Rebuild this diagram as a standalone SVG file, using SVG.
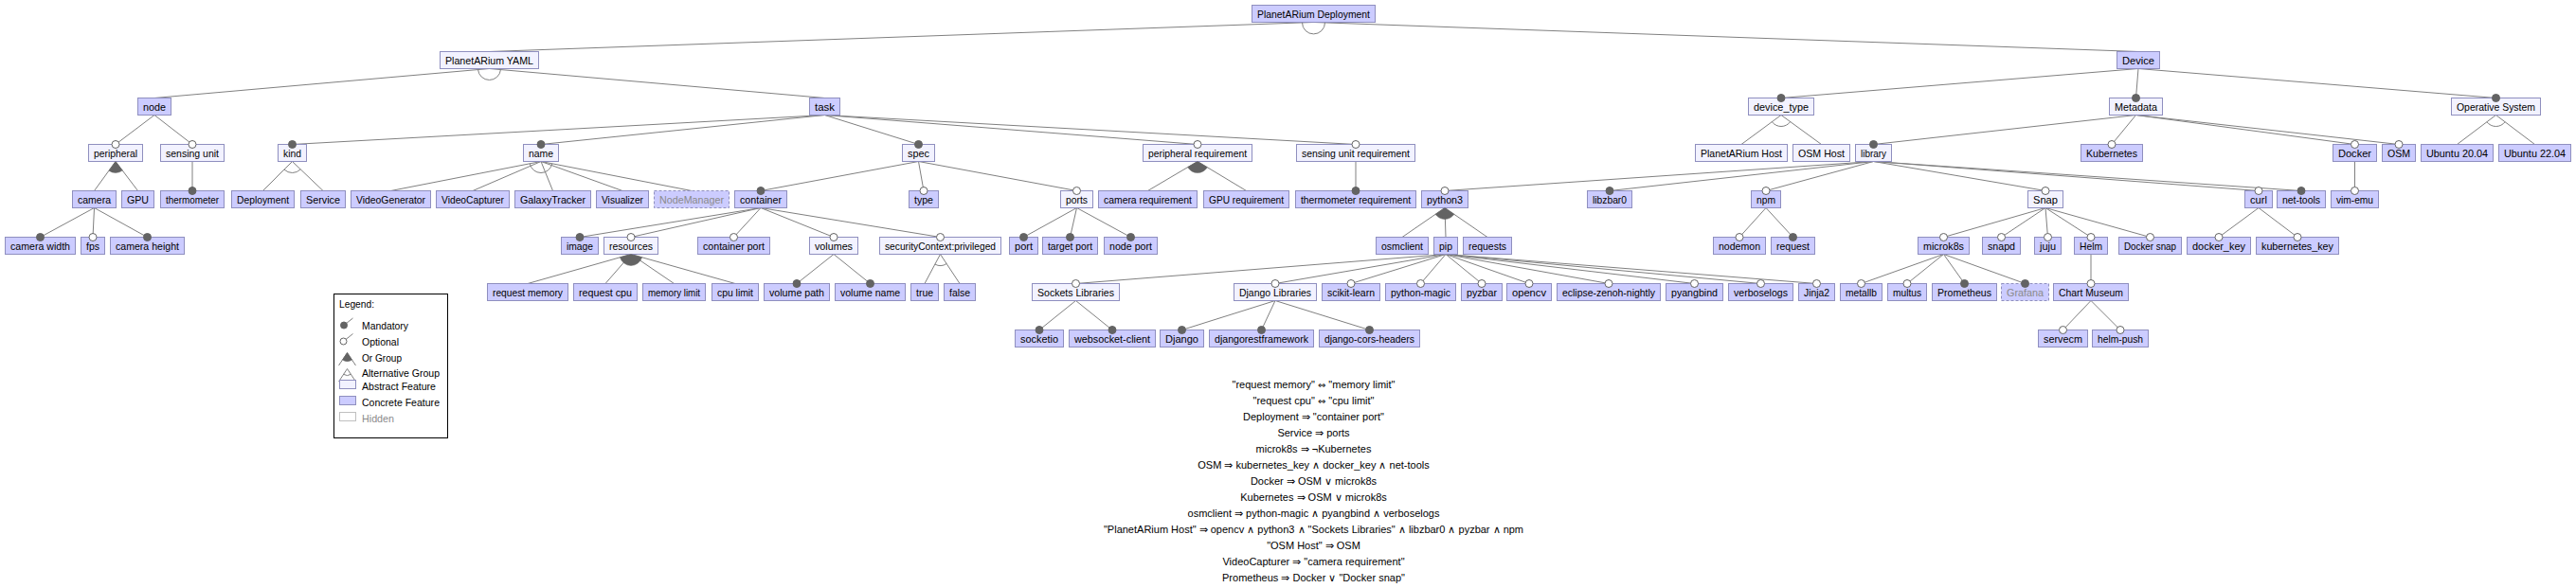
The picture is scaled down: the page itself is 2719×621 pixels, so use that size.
<svg xmlns="http://www.w3.org/2000/svg" width="2719" height="621" viewBox="0 0 2719 621">
<style>
rect.c{fill:#ccccff;stroke:#8f8fbf;stroke-width:1}
rect.a{fill:#f2f2ff;stroke:#8f8fbf;stroke-width:1}
rect.h{fill:#ccccff;stroke:#8f8fbf;stroke-width:1;stroke-dasharray:3,2}
text{font-family:"Liberation Sans",Arial,sans-serif;font-size:11px;fill:#000}
.nodes text{text-anchor:middle}
text.ht{fill:#8a8a8a}
.sym{font-family:"DejaVu Sans",sans-serif;font-size:10px}
#connectors line{stroke:#808080;stroke-width:1}
.alt{fill:none;stroke:#808080;stroke-width:1}
.or{fill:#636363;stroke:#636363;stroke-width:0.5}
.m{fill:#636363;stroke:#636363;stroke-width:1}
.o{fill:#ffffff;stroke:#636363;stroke-width:1}
.cons text{text-anchor:middle}
</style>
<rect width="2719" height="621" fill="#ffffff"/>
<g id="connectors">
<line x1="1386.5" y1="23.5" x2="516.5" y2="54.5"/>
<line x1="1386.5" y1="23.5" x2="2257" y2="54.5"/>
<line x1="516.5" y1="72.5" x2="163" y2="103.5"/>
<line x1="516.5" y1="72.5" x2="870.5" y2="103.5"/>
<line x1="163" y1="121.5" x2="122" y2="152.5"/>
<line x1="163" y1="121.5" x2="203" y2="152.5"/>
<line x1="122" y1="170.5" x2="99.5" y2="201.5"/>
<line x1="122" y1="170.5" x2="145.5" y2="201.5"/>
<line x1="203" y1="170.5" x2="203" y2="201.5"/>
<line x1="99.5" y1="219.5" x2="42.5" y2="250.5"/>
<line x1="99.5" y1="219.5" x2="98" y2="250.5"/>
<line x1="99.5" y1="219.5" x2="155.5" y2="250.5"/>
<line x1="870.5" y1="121.5" x2="308.5" y2="152.5"/>
<line x1="870.5" y1="121.5" x2="571" y2="152.5"/>
<line x1="870.5" y1="121.5" x2="969.5" y2="152.5"/>
<line x1="870.5" y1="121.5" x2="1264" y2="152.5"/>
<line x1="870.5" y1="121.5" x2="1431" y2="152.5"/>
<line x1="308.5" y1="170.5" x2="277.5" y2="201.5"/>
<line x1="308.5" y1="170.5" x2="341" y2="201.5"/>
<line x1="571" y1="170.5" x2="412.5" y2="201.5"/>
<line x1="571" y1="170.5" x2="499" y2="201.5"/>
<line x1="571" y1="170.5" x2="583.5" y2="201.5"/>
<line x1="571" y1="170.5" x2="657" y2="201.5"/>
<line x1="571" y1="170.5" x2="730" y2="201.5"/>
<line x1="969.5" y1="170.5" x2="803" y2="201.5"/>
<line x1="969.5" y1="170.5" x2="975" y2="201.5"/>
<line x1="969.5" y1="170.5" x2="1136.5" y2="201.5"/>
<line x1="803" y1="219.5" x2="612" y2="250.5"/>
<line x1="803" y1="219.5" x2="666" y2="250.5"/>
<line x1="803" y1="219.5" x2="774.5" y2="250.5"/>
<line x1="803" y1="219.5" x2="880" y2="250.5"/>
<line x1="803" y1="219.5" x2="992.5" y2="250.5"/>
<line x1="666" y1="268.5" x2="557" y2="299.5"/>
<line x1="666" y1="268.5" x2="639" y2="299.5"/>
<line x1="666" y1="268.5" x2="711.5" y2="299.5"/>
<line x1="666" y1="268.5" x2="776" y2="299.5"/>
<line x1="880" y1="268.5" x2="841" y2="299.5"/>
<line x1="880" y1="268.5" x2="918.5" y2="299.5"/>
<line x1="992.5" y1="268.5" x2="976" y2="299.5"/>
<line x1="992.5" y1="268.5" x2="1013" y2="299.5"/>
<line x1="1136.5" y1="219.5" x2="1080.5" y2="250.5"/>
<line x1="1136.5" y1="219.5" x2="1129.5" y2="250.5"/>
<line x1="1136.5" y1="219.5" x2="1193.5" y2="250.5"/>
<line x1="1264" y1="170.5" x2="1211.5" y2="201.5"/>
<line x1="1264" y1="170.5" x2="1315.5" y2="201.5"/>
<line x1="1431" y1="170.5" x2="1431" y2="201.5"/>
<line x1="2257" y1="72.5" x2="1880" y2="103.5"/>
<line x1="2257" y1="72.5" x2="2254.5" y2="103.5"/>
<line x1="2257" y1="72.5" x2="2634.5" y2="103.5"/>
<line x1="1880" y1="121.5" x2="1838" y2="152.5"/>
<line x1="1880" y1="121.5" x2="1922.5" y2="152.5"/>
<line x1="2254.5" y1="121.5" x2="1977.5" y2="152.5"/>
<line x1="2254.5" y1="121.5" x2="2229" y2="152.5"/>
<line x1="2254.5" y1="121.5" x2="2485.5" y2="152.5"/>
<line x1="2254.5" y1="121.5" x2="2532" y2="152.5"/>
<line x1="2634.5" y1="121.5" x2="2593.5" y2="152.5"/>
<line x1="2634.5" y1="121.5" x2="2675.5" y2="152.5"/>
<line x1="1977.5" y1="170.5" x2="1525" y2="201.5"/>
<line x1="1977.5" y1="170.5" x2="1699" y2="201.5"/>
<line x1="1977.5" y1="170.5" x2="1864" y2="201.5"/>
<line x1="1977.5" y1="170.5" x2="2159" y2="201.5"/>
<line x1="1977.5" y1="170.5" x2="2384" y2="201.5"/>
<line x1="1977.5" y1="170.5" x2="2429" y2="201.5"/>
<line x1="2485.5" y1="170.5" x2="2485.5" y2="201.5"/>
<line x1="1525" y1="219.5" x2="1480" y2="250.5"/>
<line x1="1525" y1="219.5" x2="1526" y2="250.5"/>
<line x1="1525" y1="219.5" x2="1570" y2="250.5"/>
<line x1="1526" y1="268.5" x2="1135.5" y2="299.5"/>
<line x1="1526" y1="268.5" x2="1346" y2="299.5"/>
<line x1="1526" y1="268.5" x2="1426" y2="299.5"/>
<line x1="1526" y1="268.5" x2="1499.5" y2="299.5"/>
<line x1="1526" y1="268.5" x2="1564" y2="299.5"/>
<line x1="1526" y1="268.5" x2="1614" y2="299.5"/>
<line x1="1526" y1="268.5" x2="1698" y2="299.5"/>
<line x1="1526" y1="268.5" x2="1788.5" y2="299.5"/>
<line x1="1526" y1="268.5" x2="1858.5" y2="299.5"/>
<line x1="1526" y1="268.5" x2="1917.5" y2="299.5"/>
<line x1="1864" y1="219.5" x2="1836" y2="250.5"/>
<line x1="1864" y1="219.5" x2="1892.5" y2="250.5"/>
<line x1="2159" y1="219.5" x2="2051.5" y2="250.5"/>
<line x1="2159" y1="219.5" x2="2112.5" y2="250.5"/>
<line x1="2159" y1="219.5" x2="2161.5" y2="250.5"/>
<line x1="2159" y1="219.5" x2="2207" y2="250.5"/>
<line x1="2159" y1="219.5" x2="2269.5" y2="250.5"/>
<line x1="2384" y1="219.5" x2="2342" y2="250.5"/>
<line x1="2384" y1="219.5" x2="2425" y2="250.5"/>
<line x1="2051.5" y1="268.5" x2="1964.5" y2="299.5"/>
<line x1="2051.5" y1="268.5" x2="2013" y2="299.5"/>
<line x1="2051.5" y1="268.5" x2="2073.5" y2="299.5"/>
<line x1="2051.5" y1="268.5" x2="2137.5" y2="299.5"/>
<line x1="2207" y1="268.5" x2="2207" y2="299.5"/>
<line x1="1135.5" y1="317.5" x2="1097" y2="348.5"/>
<line x1="1135.5" y1="317.5" x2="1174" y2="348.5"/>
<line x1="1346" y1="317.5" x2="1247.5" y2="348.5"/>
<line x1="1346" y1="317.5" x2="1331.5" y2="348.5"/>
<line x1="1346" y1="317.5" x2="1445.5" y2="348.5"/>
<line x1="2207" y1="317.5" x2="2177.5" y2="348.5"/>
<line x1="2207" y1="317.5" x2="2238" y2="348.5"/>
</g>
<g class="nodes">
<g id="n-root"><rect class="c" x="1321.5" y="5.5" width="130" height="18"/><text x="1386.5" y="19" textLength="119" lengthAdjust="spacingAndGlyphs">PlanetARium Deployment</text></g>
<g id="n-yaml"><rect class="a" x="464.5" y="54.5" width="104" height="18"/><text x="516.5" y="68" textLength="93" lengthAdjust="spacingAndGlyphs">PlanetARium YAML</text></g>
<g id="n-device"><rect class="c" x="2234.5" y="54.5" width="45" height="18"/><text x="2257" y="68" textLength="34" lengthAdjust="spacingAndGlyphs">Device</text></g>
<g id="n-node"><rect class="c" x="145.5" y="103.5" width="35" height="18"/><text x="163" y="117" textLength="24" lengthAdjust="spacingAndGlyphs">node</text></g>
<g id="n-task"><rect class="c" x="854.5" y="103.5" width="32" height="18"/><text x="870.5" y="117" textLength="21" lengthAdjust="spacingAndGlyphs">task</text></g>
<g id="n-device_type"><rect class="a" x="1845.5" y="103.5" width="69" height="18"/><text x="1880" y="117" textLength="58" lengthAdjust="spacingAndGlyphs">device_type</text></g>
<g id="n-metadata"><rect class="a" x="2226.5" y="103.5" width="56" height="18"/><text x="2254.5" y="117" textLength="45" lengthAdjust="spacingAndGlyphs">Metadata</text></g>
<g id="n-os"><rect class="a" x="2587.5" y="103.5" width="94" height="18"/><text x="2634.5" y="117" textLength="83" lengthAdjust="spacingAndGlyphs">Operative System</text></g>
<g id="n-peripheral"><rect class="a" x="93.5" y="152.5" width="57" height="18"/><text x="122" y="166" textLength="46" lengthAdjust="spacingAndGlyphs">peripheral</text></g>
<g id="n-sensing"><rect class="a" x="169.5" y="152.5" width="67" height="18"/><text x="203" y="166" textLength="56" lengthAdjust="spacingAndGlyphs">sensing unit</text></g>
<g id="n-kind"><rect class="a" x="293.5" y="152.5" width="30" height="18"/><text x="308.5" y="166" textLength="19" lengthAdjust="spacingAndGlyphs">kind</text></g>
<g id="n-name"><rect class="a" x="552.5" y="152.5" width="37" height="18"/><text x="571" y="166" textLength="26" lengthAdjust="spacingAndGlyphs">name</text></g>
<g id="n-spec"><rect class="a" x="952.5" y="152.5" width="34" height="18"/><text x="969.5" y="166" textLength="23" lengthAdjust="spacingAndGlyphs">spec</text></g>
<g id="n-preq"><rect class="a" x="1206.5" y="152.5" width="115" height="18"/><text x="1264" y="166" textLength="104" lengthAdjust="spacingAndGlyphs">peripheral requirement</text></g>
<g id="n-sreq"><rect class="a" x="1368.5" y="152.5" width="125" height="18"/><text x="1431" y="166" textLength="114" lengthAdjust="spacingAndGlyphs">sensing unit requirement</text></g>
<g id="n-pahost"><rect class="a" x="1789.5" y="152.5" width="97" height="18"/><text x="1838" y="166" textLength="86" lengthAdjust="spacingAndGlyphs">PlanetARium Host</text></g>
<g id="n-osmhost"><rect class="a" x="1892.5" y="152.5" width="60" height="18"/><text x="1922.5" y="166" textLength="49" lengthAdjust="spacingAndGlyphs">OSM Host</text></g>
<g id="n-library"><rect class="a" x="1958.5" y="152.5" width="38" height="18"/><text x="1977.5" y="166" textLength="27" lengthAdjust="spacingAndGlyphs">library</text></g>
<g id="n-kubernetes"><rect class="c" x="2196.5" y="152.5" width="65" height="18"/><text x="2229" y="166" textLength="54" lengthAdjust="spacingAndGlyphs">Kubernetes</text></g>
<g id="n-docker"><rect class="c" x="2462.5" y="152.5" width="46" height="18"/><text x="2485.5" y="166" textLength="35" lengthAdjust="spacingAndGlyphs">Docker</text></g>
<g id="n-osm"><rect class="c" x="2514.5" y="152.5" width="35" height="18"/><text x="2532" y="166" textLength="24" lengthAdjust="spacingAndGlyphs">OSM</text></g>
<g id="n-u20"><rect class="c" x="2555.5" y="152.5" width="76" height="18"/><text x="2593.5" y="166" textLength="65" lengthAdjust="spacingAndGlyphs">Ubuntu 20.04</text></g>
<g id="n-u22"><rect class="c" x="2637.5" y="152.5" width="76" height="18"/><text x="2675.5" y="166" textLength="65" lengthAdjust="spacingAndGlyphs">Ubuntu 22.04</text></g>
<g id="n-camera"><rect class="c" x="76.5" y="201.5" width="46" height="18"/><text x="99.5" y="215" textLength="35" lengthAdjust="spacingAndGlyphs">camera</text></g>
<g id="n-gpu"><rect class="c" x="128.5" y="201.5" width="34" height="18"/><text x="145.5" y="215" textLength="23" lengthAdjust="spacingAndGlyphs">GPU</text></g>
<g id="n-thermometer"><rect class="c" x="169.5" y="201.5" width="67" height="18"/><text x="203" y="215" textLength="56" lengthAdjust="spacingAndGlyphs">thermometer</text></g>
<g id="n-deployment"><rect class="c" x="244.5" y="201.5" width="66" height="18"/><text x="277.5" y="215" textLength="55" lengthAdjust="spacingAndGlyphs">Deployment</text></g>
<g id="n-service"><rect class="c" x="317.5" y="201.5" width="47" height="18"/><text x="341" y="215" textLength="36" lengthAdjust="spacingAndGlyphs">Service</text></g>
<g id="n-videogen"><rect class="c" x="370.5" y="201.5" width="84" height="18"/><text x="412.5" y="215" textLength="73" lengthAdjust="spacingAndGlyphs">VideoGenerator</text></g>
<g id="n-videocap"><rect class="c" x="460.5" y="201.5" width="77" height="18"/><text x="499" y="215" textLength="66" lengthAdjust="spacingAndGlyphs">VideoCapturer</text></g>
<g id="n-galaxy"><rect class="c" x="543.5" y="201.5" width="80" height="18"/><text x="583.5" y="215" textLength="69" lengthAdjust="spacingAndGlyphs">GalaxyTracker</text></g>
<g id="n-visualizer"><rect class="c" x="629.5" y="201.5" width="55" height="18"/><text x="657" y="215" textLength="44" lengthAdjust="spacingAndGlyphs">Visualizer</text></g>
<g id="n-nodemanager"><rect class="h" x="690.5" y="201.5" width="79" height="18"/><text class="ht" x="730" y="215" textLength="68" lengthAdjust="spacingAndGlyphs">NodeManager</text></g>
<g id="n-container"><rect class="c" x="775.5" y="201.5" width="55" height="18"/><text x="803" y="215" textLength="44" lengthAdjust="spacingAndGlyphs">container</text></g>
<g id="n-type"><rect class="c" x="959.5" y="201.5" width="31" height="18"/><text x="975" y="215" textLength="20" lengthAdjust="spacingAndGlyphs">type</text></g>
<g id="n-ports"><rect class="a" x="1119.5" y="201.5" width="34" height="18"/><text x="1136.5" y="215" textLength="23" lengthAdjust="spacingAndGlyphs">ports</text></g>
<g id="n-camreq"><rect class="c" x="1159.5" y="201.5" width="104" height="18"/><text x="1211.5" y="215" textLength="93" lengthAdjust="spacingAndGlyphs">camera requirement</text></g>
<g id="n-gpureq"><rect class="c" x="1270.5" y="201.5" width="90" height="18"/><text x="1315.5" y="215" textLength="79" lengthAdjust="spacingAndGlyphs">GPU requirement</text></g>
<g id="n-thermreq"><rect class="c" x="1367.5" y="201.5" width="127" height="18"/><text x="1431" y="215" textLength="116" lengthAdjust="spacingAndGlyphs">thermometer requirement</text></g>
<g id="n-python3"><rect class="c" x="1500.5" y="201.5" width="49" height="18"/><text x="1525" y="215" textLength="38" lengthAdjust="spacingAndGlyphs">python3</text></g>
<g id="n-libzbar0"><rect class="c" x="1675.5" y="201.5" width="47" height="18"/><text x="1699" y="215" textLength="36" lengthAdjust="spacingAndGlyphs">libzbar0</text></g>
<g id="n-npm"><rect class="c" x="1848.5" y="201.5" width="31" height="18"/><text x="1864" y="215" textLength="20" lengthAdjust="spacingAndGlyphs">npm</text></g>
<g id="n-snap"><rect class="a" x="2140.5" y="201.5" width="37" height="18"/><text x="2159" y="215" textLength="26" lengthAdjust="spacingAndGlyphs">Snap</text></g>
<g id="n-curl"><rect class="c" x="2369.5" y="201.5" width="29" height="18"/><text x="2384" y="215" textLength="18" lengthAdjust="spacingAndGlyphs">curl</text></g>
<g id="n-nettools"><rect class="c" x="2403.5" y="201.5" width="51" height="18"/><text x="2429" y="215" textLength="40" lengthAdjust="spacingAndGlyphs">net-tools</text></g>
<g id="n-vimemu"><rect class="c" x="2460.5" y="201.5" width="50" height="18"/><text x="2485.5" y="215" textLength="39" lengthAdjust="spacingAndGlyphs">vim-emu</text></g>
<g id="n-camwidth"><rect class="c" x="5.5" y="250.5" width="74" height="18"/><text x="42.5" y="264" textLength="63" lengthAdjust="spacingAndGlyphs">camera width</text></g>
<g id="n-fps"><rect class="c" x="85.5" y="250.5" width="25" height="18"/><text x="98" y="264" textLength="14" lengthAdjust="spacingAndGlyphs">fps</text></g>
<g id="n-camheight"><rect class="c" x="116.5" y="250.5" width="78" height="18"/><text x="155.5" y="264" textLength="67" lengthAdjust="spacingAndGlyphs">camera height</text></g>
<g id="n-image"><rect class="c" x="592.5" y="250.5" width="39" height="18"/><text x="612" y="264" textLength="28" lengthAdjust="spacingAndGlyphs">image</text></g>
<g id="n-resources"><rect class="a" x="637.5" y="250.5" width="57" height="18"/><text x="666" y="264" textLength="46" lengthAdjust="spacingAndGlyphs">resources</text></g>
<g id="n-cport"><rect class="c" x="736.5" y="250.5" width="76" height="18"/><text x="774.5" y="264" textLength="65" lengthAdjust="spacingAndGlyphs">container port</text></g>
<g id="n-volumes"><rect class="a" x="854.5" y="250.5" width="51" height="18"/><text x="880" y="264" textLength="40" lengthAdjust="spacingAndGlyphs">volumes</text></g>
<g id="n-secctx"><rect class="a" x="928.5" y="250.5" width="128" height="18"/><text x="992.5" y="264" textLength="117" lengthAdjust="spacingAndGlyphs">securityContext:privileged</text></g>
<g id="n-port"><rect class="c" x="1065.5" y="250.5" width="30" height="18"/><text x="1080.5" y="264" textLength="19" lengthAdjust="spacingAndGlyphs">port</text></g>
<g id="n-tport"><rect class="c" x="1100.5" y="250.5" width="58" height="18"/><text x="1129.5" y="264" textLength="47" lengthAdjust="spacingAndGlyphs">target port</text></g>
<g id="n-nport"><rect class="c" x="1165.5" y="250.5" width="56" height="18"/><text x="1193.5" y="264" textLength="45" lengthAdjust="spacingAndGlyphs">node port</text></g>
<g id="n-osmclient"><rect class="c" x="1452.5" y="250.5" width="55" height="18"/><text x="1480" y="264" textLength="44" lengthAdjust="spacingAndGlyphs">osmclient</text></g>
<g id="n-pip"><rect class="c" x="1513.5" y="250.5" width="25" height="18"/><text x="1526" y="264" textLength="14" lengthAdjust="spacingAndGlyphs">pip</text></g>
<g id="n-requests"><rect class="c" x="1544.5" y="250.5" width="51" height="18"/><text x="1570" y="264" textLength="40" lengthAdjust="spacingAndGlyphs">requests</text></g>
<g id="n-nodemon"><rect class="c" x="1808.5" y="250.5" width="55" height="18"/><text x="1836" y="264" textLength="44" lengthAdjust="spacingAndGlyphs">nodemon</text></g>
<g id="n-request"><rect class="c" x="1869.5" y="250.5" width="46" height="18"/><text x="1892.5" y="264" textLength="35" lengthAdjust="spacingAndGlyphs">request</text></g>
<g id="n-microk8s"><rect class="c" x="2024.5" y="250.5" width="54" height="18"/><text x="2051.5" y="264" textLength="43" lengthAdjust="spacingAndGlyphs">microk8s</text></g>
<g id="n-snapd"><rect class="c" x="2092.5" y="250.5" width="40" height="18"/><text x="2112.5" y="264" textLength="29" lengthAdjust="spacingAndGlyphs">snapd</text></g>
<g id="n-juju"><rect class="c" x="2147.5" y="250.5" width="28" height="18"/><text x="2161.5" y="264" textLength="17" lengthAdjust="spacingAndGlyphs">juju</text></g>
<g id="n-helm"><rect class="c" x="2189.5" y="250.5" width="35" height="18"/><text x="2207" y="264" textLength="24" lengthAdjust="spacingAndGlyphs">Helm</text></g>
<g id="n-dockersnap"><rect class="c" x="2236.5" y="250.5" width="66" height="18"/><text x="2269.5" y="264" textLength="55" lengthAdjust="spacingAndGlyphs">Docker snap</text></g>
<g id="n-dockerkey"><rect class="c" x="2308.5" y="250.5" width="67" height="18"/><text x="2342" y="264" textLength="56" lengthAdjust="spacingAndGlyphs">docker_key</text></g>
<g id="n-kubekey"><rect class="c" x="2381.5" y="250.5" width="87" height="18"/><text x="2425" y="264" textLength="76" lengthAdjust="spacingAndGlyphs">kubernetes_key</text></g>
<g id="n-reqmem"><rect class="c" x="514.5" y="299.5" width="85" height="18"/><text x="557" y="313" textLength="74" lengthAdjust="spacingAndGlyphs">request memory</text></g>
<g id="n-reqcpu"><rect class="c" x="605.5" y="299.5" width="67" height="18"/><text x="639" y="313" textLength="56" lengthAdjust="spacingAndGlyphs">request cpu</text></g>
<g id="n-memlim"><rect class="c" x="678.5" y="299.5" width="66" height="18"/><text x="711.5" y="313" textLength="55" lengthAdjust="spacingAndGlyphs">memory limit</text></g>
<g id="n-cpulim"><rect class="c" x="751.5" y="299.5" width="49" height="18"/><text x="776" y="313" textLength="38" lengthAdjust="spacingAndGlyphs">cpu limit</text></g>
<g id="n-volpath"><rect class="c" x="806.5" y="299.5" width="69" height="18"/><text x="841" y="313" textLength="58" lengthAdjust="spacingAndGlyphs">volume path</text></g>
<g id="n-volname"><rect class="c" x="881.5" y="299.5" width="74" height="18"/><text x="918.5" y="313" textLength="63" lengthAdjust="spacingAndGlyphs">volume name</text></g>
<g id="n-true"><rect class="c" x="961.5" y="299.5" width="29" height="18"/><text x="976" y="313" textLength="18" lengthAdjust="spacingAndGlyphs">true</text></g>
<g id="n-false"><rect class="c" x="996.5" y="299.5" width="33" height="18"/><text x="1013" y="313" textLength="22" lengthAdjust="spacingAndGlyphs">false</text></g>
<g id="n-sockets"><rect class="a" x="1089.5" y="299.5" width="92" height="18"/><text x="1135.5" y="313" textLength="81" lengthAdjust="spacingAndGlyphs">Sockets Libraries</text></g>
<g id="n-djangolibs"><rect class="a" x="1302.5" y="299.5" width="87" height="18"/><text x="1346" y="313" textLength="76" lengthAdjust="spacingAndGlyphs">Django Libraries</text></g>
<g id="n-sklearn"><rect class="c" x="1395.5" y="299.5" width="61" height="18"/><text x="1426" y="313" textLength="50" lengthAdjust="spacingAndGlyphs">scikit-learn</text></g>
<g id="n-pymagic"><rect class="c" x="1462.5" y="299.5" width="74" height="18"/><text x="1499.5" y="313" textLength="63" lengthAdjust="spacingAndGlyphs">python-magic</text></g>
<g id="n-pyzbar"><rect class="c" x="1542.5" y="299.5" width="43" height="18"/><text x="1564" y="313" textLength="32" lengthAdjust="spacingAndGlyphs">pyzbar</text></g>
<g id="n-opencv"><rect class="c" x="1590.5" y="299.5" width="47" height="18"/><text x="1614" y="313" textLength="36" lengthAdjust="spacingAndGlyphs">opencv</text></g>
<g id="n-zenoh"><rect class="c" x="1643.5" y="299.5" width="109" height="18"/><text x="1698" y="313" textLength="98" lengthAdjust="spacingAndGlyphs">eclipse-zenoh-nightly</text></g>
<g id="n-pyangbind"><rect class="c" x="1758.5" y="299.5" width="60" height="18"/><text x="1788.5" y="313" textLength="49" lengthAdjust="spacingAndGlyphs">pyangbind</text></g>
<g id="n-verboselogs"><rect class="c" x="1824.5" y="299.5" width="68" height="18"/><text x="1858.5" y="313" textLength="57" lengthAdjust="spacingAndGlyphs">verboselogs</text></g>
<g id="n-jinja2"><rect class="c" x="1898.5" y="299.5" width="38" height="18"/><text x="1917.5" y="313" textLength="27" lengthAdjust="spacingAndGlyphs">Jinja2</text></g>
<g id="n-metallb"><rect class="c" x="1942.5" y="299.5" width="44" height="18"/><text x="1964.5" y="313" textLength="33" lengthAdjust="spacingAndGlyphs">metallb</text></g>
<g id="n-multus"><rect class="c" x="1992.5" y="299.5" width="41" height="18"/><text x="2013" y="313" textLength="30" lengthAdjust="spacingAndGlyphs">multus</text></g>
<g id="n-prometheus"><rect class="c" x="2039.5" y="299.5" width="68" height="18"/><text x="2073.5" y="313" textLength="57" lengthAdjust="spacingAndGlyphs">Prometheus</text></g>
<g id="n-grafana"><rect class="h" x="2112.5" y="299.5" width="50" height="18"/><text class="ht" x="2137.5" y="313" textLength="39" lengthAdjust="spacingAndGlyphs">Grafana</text></g>
<g id="n-chartmuseum"><rect class="c" x="2167.5" y="299.5" width="79" height="18"/><text x="2207" y="313" textLength="68" lengthAdjust="spacingAndGlyphs">Chart Museum</text></g>
<g id="n-socketio"><rect class="c" x="1071.5" y="348.5" width="51" height="18"/><text x="1097" y="362" textLength="40" lengthAdjust="spacingAndGlyphs">socketio</text></g>
<g id="n-wsclient"><rect class="c" x="1128.5" y="348.5" width="91" height="18"/><text x="1174" y="362" textLength="80" lengthAdjust="spacingAndGlyphs">websocket-client</text></g>
<g id="n-django"><rect class="c" x="1224.5" y="348.5" width="46" height="18"/><text x="1247.5" y="362" textLength="35" lengthAdjust="spacingAndGlyphs">Django</text></g>
<g id="n-drf"><rect class="c" x="1276.5" y="348.5" width="110" height="18"/><text x="1331.5" y="362" textLength="99" lengthAdjust="spacingAndGlyphs">djangorestframework</text></g>
<g id="n-dch"><rect class="c" x="1392.5" y="348.5" width="106" height="18"/><text x="1445.5" y="362" textLength="95" lengthAdjust="spacingAndGlyphs">django-cors-headers</text></g>
<g id="n-servecm"><rect class="c" x="2151.5" y="348.5" width="52" height="18"/><text x="2177.5" y="362" textLength="41" lengthAdjust="spacingAndGlyphs">servecm</text></g>
<g id="n-helmpush"><rect class="c" x="2208.5" y="348.5" width="59" height="18"/><text x="2238" y="362" textLength="48" lengthAdjust="spacingAndGlyphs">helm-push</text></g>
</g>
<g id="groups">
<path class="alt" d="M1398.5,23.9 A12,12 0 0 1 1374.5,23.9"/>
<path class="alt" d="M528.45,73.55 A12,12 0 0 1 504.55,73.55"/>
<path class="alt" d="M317.18,178.78 A12,12 0 0 1 300.01,178.99"/>
<path class="alt" d="M582.78,172.8 A12,12 0 0 1 559.22,172.8"/>
<path class="alt" d="M999.12,278.51 A12,12 0 0 1 986.86,279.09"/>
<path class="alt" d="M1889.69,128.57 A12,12 0 0 1 1870.34,128.63"/>
<path class="alt" d="M2644.07,128.74 A12,12 0 0 1 2624.93,128.74"/>
<path class="or" d="M122,170.5 L129.25,180.06 A12,12 0 0 1 114.95,180.21 Z"/>
<path class="or" d="M666,268.5 L677.55,271.76 A12,12 0 0 1 654.46,271.78 Z"/>
<path class="or" d="M1264,170.5 L1274.28,176.69 A12,12 0 0 1 1253.67,176.6 Z"/>
<path class="or" d="M1525,219.5 L1534.88,226.31 A12,12 0 0 1 1515.12,226.31 Z"/>
</g>
<g id="decorations">
<circle class="m" cx="203" cy="201.5" r="4"/>
<circle class="m" cx="42.5" cy="250.5" r="4"/>
<circle class="m" cx="155.5" cy="250.5" r="4"/>
<circle class="m" cx="308.5" cy="152.5" r="4"/>
<circle class="m" cx="571" cy="152.5" r="4"/>
<circle class="m" cx="969.5" cy="152.5" r="4"/>
<circle class="m" cx="803" cy="201.5" r="4"/>
<circle class="m" cx="612" cy="250.5" r="4"/>
<circle class="m" cx="841" cy="299.5" r="4"/>
<circle class="m" cx="918.5" cy="299.5" r="4"/>
<circle class="m" cx="1080.5" cy="250.5" r="4"/>
<circle class="m" cx="1129.5" cy="250.5" r="4"/>
<circle class="m" cx="1193.5" cy="250.5" r="4"/>
<circle class="m" cx="1431" cy="201.5" r="4"/>
<circle class="m" cx="1880" cy="103.5" r="4"/>
<circle class="m" cx="2254.5" cy="103.5" r="4"/>
<circle class="m" cx="2634.5" cy="103.5" r="4"/>
<circle class="m" cx="1977.5" cy="152.5" r="4"/>
<circle class="m" cx="1699" cy="201.5" r="4"/>
<circle class="m" cx="2429" cy="201.5" r="4"/>
<circle class="m" cx="1892.5" cy="250.5" r="4"/>
<circle class="m" cx="2073.5" cy="299.5" r="4"/>
<circle class="m" cx="2137.5" cy="299.5" r="4"/>
<circle class="m" cx="1097" cy="348.5" r="4"/>
<circle class="m" cx="1174" cy="348.5" r="4"/>
<circle class="m" cx="1247.5" cy="348.5" r="4"/>
<circle class="m" cx="1331.5" cy="348.5" r="4"/>
<circle class="m" cx="1445.5" cy="348.5" r="4"/>
<circle class="o" cx="122" cy="152.5" r="4"/>
<circle class="o" cx="203" cy="152.5" r="4"/>
<circle class="o" cx="98" cy="250.5" r="4"/>
<circle class="o" cx="1264" cy="152.5" r="4"/>
<circle class="o" cx="1431" cy="152.5" r="4"/>
<circle class="o" cx="975" cy="201.5" r="4"/>
<circle class="o" cx="1136.5" cy="201.5" r="4"/>
<circle class="o" cx="666" cy="250.5" r="4"/>
<circle class="o" cx="774.5" cy="250.5" r="4"/>
<circle class="o" cx="880" cy="250.5" r="4"/>
<circle class="o" cx="992.5" cy="250.5" r="4"/>
<circle class="o" cx="2229" cy="152.5" r="4"/>
<circle class="o" cx="2485.5" cy="152.5" r="4"/>
<circle class="o" cx="2532" cy="152.5" r="4"/>
<circle class="o" cx="1525" cy="201.5" r="4"/>
<circle class="o" cx="1864" cy="201.5" r="4"/>
<circle class="o" cx="2159" cy="201.5" r="4"/>
<circle class="o" cx="2384" cy="201.5" r="4"/>
<circle class="o" cx="2485.5" cy="201.5" r="4"/>
<circle class="o" cx="1836" cy="250.5" r="4"/>
<circle class="o" cx="2051.5" cy="250.5" r="4"/>
<circle class="o" cx="2112.5" cy="250.5" r="4"/>
<circle class="o" cx="2161.5" cy="250.5" r="4"/>
<circle class="o" cx="2207" cy="250.5" r="4"/>
<circle class="o" cx="2269.5" cy="250.5" r="4"/>
<circle class="o" cx="2342" cy="250.5" r="4"/>
<circle class="o" cx="2425" cy="250.5" r="4"/>
<circle class="o" cx="1135.5" cy="299.5" r="4"/>
<circle class="o" cx="1346" cy="299.5" r="4"/>
<circle class="o" cx="1426" cy="299.5" r="4"/>
<circle class="o" cx="1499.5" cy="299.5" r="4"/>
<circle class="o" cx="1564" cy="299.5" r="4"/>
<circle class="o" cx="1614" cy="299.5" r="4"/>
<circle class="o" cx="1698" cy="299.5" r="4"/>
<circle class="o" cx="1788.5" cy="299.5" r="4"/>
<circle class="o" cx="1858.5" cy="299.5" r="4"/>
<circle class="o" cx="1917.5" cy="299.5" r="4"/>
<circle class="o" cx="1964.5" cy="299.5" r="4"/>
<circle class="o" cx="2013" cy="299.5" r="4"/>
<circle class="o" cx="2207" cy="299.5" r="4"/>
<circle class="o" cx="2177.5" cy="348.5" r="4"/>
<circle class="o" cx="2238" cy="348.5" r="4"/>
</g>
<g id="legend">
<rect x="352.5" y="310.5" width="120" height="152" fill="#ffffff" stroke="#000000" stroke-width="1"/>
<text x="358" y="325" textLength="37" lengthAdjust="spacingAndGlyphs">Legend:</text>
<line x1="363" y1="343.5" x2="372.5" y2="336" stroke="#808080"/>
<circle class="m" cx="363" cy="343.5" r="3.5"/>
<text x="382" y="348" textLength="49" lengthAdjust="spacingAndGlyphs">Mandatory</text>
<line x1="365" y1="358.5" x2="372.5" y2="352.5" stroke="#808080"/>
<circle class="o" cx="362.5" cy="360.5" r="3.5"/>
<text x="382" y="365" textLength="39" lengthAdjust="spacingAndGlyphs">Optional</text>
<line x1="366.5" y1="372.5" x2="357.5" y2="386" stroke="#808080"/>
<line x1="366.5" y1="372.5" x2="375.5" y2="386" stroke="#808080"/>
<path class="or" d="M366.5,372.5 L371.5,380 A9,9 0 0 1 361.5,380 Z"/>
<text x="382" y="381.5" textLength="42" lengthAdjust="spacingAndGlyphs">Or Group</text>
<line x1="366.5" y1="389.5" x2="357.5" y2="403" stroke="#808080"/>
<line x1="366.5" y1="389.5" x2="375.5" y2="403" stroke="#808080"/>
<path class="alt" d="M370.4,395.3 A7,7 0 0 1 362.6,395.3"/>
<text x="382" y="398" textLength="82" lengthAdjust="spacingAndGlyphs">Alternative Group</text>
<rect class="a" x="358.5" y="401.5" width="17" height="9"/>
<text x="382" y="411.5" textLength="78" lengthAdjust="spacingAndGlyphs">Abstract Feature</text>
<rect class="c" x="358.5" y="418.5" width="17" height="9"/>
<text x="382" y="428.5" textLength="82" lengthAdjust="spacingAndGlyphs">Concrete Feature</text>
<rect x="358.5" y="435.5" width="17" height="9" fill="#ffffff" stroke="#808080" stroke-dasharray="1,1"/>
<text class="ht" x="382" y="445.5" textLength="34" lengthAdjust="spacingAndGlyphs">Hidden</text>
</g>
<g id="constraints" class="cons">
<text x="1386.5" y="410">"request memory" <tspan class="sym">⇔</tspan> "memory limit"</text>
<text x="1386.5" y="427">"request cpu" <tspan class="sym">⇔</tspan> "cpu limit"</text>
<text x="1386.5" y="444">Deployment ⇒ "container port"</text>
<text x="1386.5" y="461">Service ⇒ ports</text>
<text x="1386.5" y="478">microk8s ⇒ ¬Kubernetes</text>
<text x="1386.5" y="495">OSM ⇒ kubernetes_key ∧ docker_key ∧ net-tools</text>
<text x="1386.5" y="512">Docker ⇒ OSM ∨ microk8s</text>
<text x="1386.5" y="529">Kubernetes ⇒ OSM ∨ microk8s</text>
<text x="1386.5" y="546">osmclient ⇒ python-magic ∧ pyangbind ∧ verboselogs</text>
<text x="1386.5" y="563">"PlanetARium Host" ⇒ opencv ∧ python3 ∧ "Sockets Libraries" ∧ libzbar0 ∧ pyzbar ∧ npm</text>
<text x="1386.5" y="580">"OSM Host" ⇒ OSM</text>
<text x="1386.5" y="597">VideoCapturer ⇒ "camera requirement"</text>
<text x="1386.5" y="614">Prometheus ⇒ Docker ∨ "Docker snap"</text>
</g>
</svg>
